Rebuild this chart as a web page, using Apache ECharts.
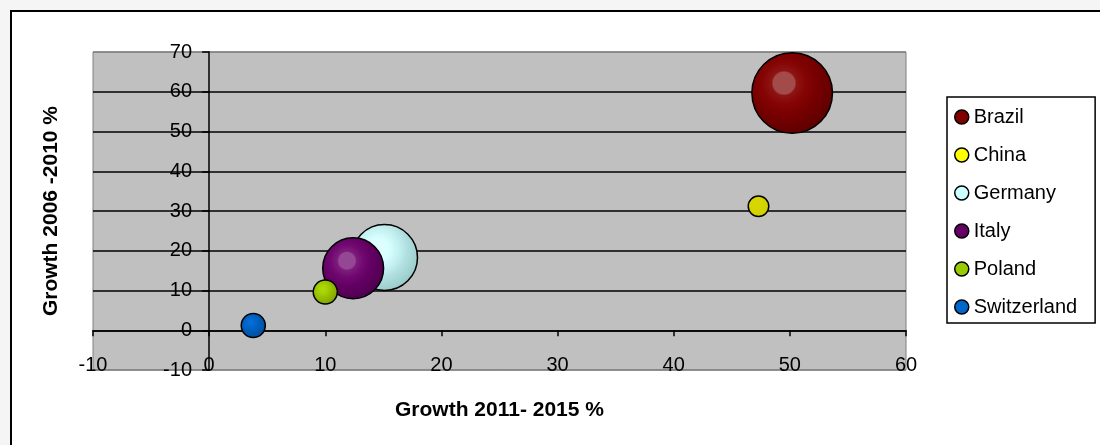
<!DOCTYPE html>
<html>
<head>
<meta charset="utf-8">
<script src="https://cdn.jsdelivr.net/npm/echarts@6/dist/echarts.min.js"></script>
<style>
html,body{margin:0;padding:0;background:#f5f5f5;}
#chart{width:1100px;height:445px;}
</style>
</head>
<body>
<div id="chart"></div>
<script>
// ---- Data ----
var countries = ['Brazil', 'China', 'Germany', 'Italy', 'Poland', 'Switzerland'];
var growth2011_2015 = [50.2, 47.3, 15.1, 12.4, 10.0, 3.8];   // x
var growth2006_2010 = [59.7, 31.2, 18.3, 15.6, 9.6, 1.2];    // y
var bubbleSize = [100, 6.5, 67, 57, 8.9, 8.9];               // relative bubble area
var xTicks = { min: -10, max: 60, step: 10 };
var yTicks = { min: -10, max: 70, step: 10 };
var xTitle = 'Growth 2011- 2015 %';
var yTitle = 'Growth 2006 -2010 %';

// ---- Styles ----
var FONT = 'Arial, "Liberation Sans", sans-serif';
var legendColors = ['#800000', '#FFFF00', '#CCFFFF', '#660066', '#99CC00', '#0066CC'];
var bubbleStops = [
  [[0, '#A34A4A'], [0.2, '#A34A4A'], [0.23, '#8E1414'], [0.4, '#850404'], [0.6, '#780000'], [0.8, '#6A0000'], [1, '#5C0000']],
  [[0, '#D8D800'], [1, '#CFCF00']],
  [[0, '#E2FFFF'], [0.25, '#D8FFFF'], [0.45, '#C6F2F2'], [0.65, '#B2E0E0'], [0.85, '#A2D2D2'], [1, '#97C6C6']],
  [[0, '#944894'], [0.2, '#944894'], [0.23, '#7E1E7E'], [0.4, '#700870'], [0.6, '#640064'], [0.8, '#580058'], [1, '#4C004C']],
  [[0, '#AEDA10'], [0.25, '#A6D200'], [0.5, '#98C000'], [0.8, '#8AAC00'], [1, '#7E9C00']],
  [[0, '#0A6FD8'], [0.3, '#0066CC'], [0.6, '#005AB4'], [1, '#004C99']]
];

function sizeOf(v) { return 80.6 * Math.sqrt(v / 100); }

var series = countries.map(function (name, i) {
  return {
    name: name,
    type: 'scatter',
    data: [[growth2011_2015[i], growth2006_2010[i], bubbleSize[i]]],
    symbol: 'circle',
    symbolSize: function (d) { return sizeOf(d[2]); },
    itemStyle: {
      color: new echarts.graphic.RadialGradient(0.4, 0.38, 0.66, bubbleStops[i].map(function (s) { return { offset: s[0], color: s[1] }; })),
      borderColor: '#000',
      borderWidth: 1.5,
      opacity: 1
    },
    emphasis: { disabled: true },
    z: 3 + i
  };
});

var yGridColors = [];
for (var v = yTicks.min; v <= yTicks.max; v += yTicks.step) {
  yGridColors.push((v === yTicks.min || v === yTicks.max) ? '#808080' : '#000000');
}

var chart = echarts.init(document.getElementById('chart'), null, { renderer: 'canvas' });
chart.setOption({
  backgroundColor: '#f5f5f5',
  animation: false,
  textStyle: { fontFamily: FONT },
  graphic: [{
    type: 'rect',
    shape: { x: 11, y: 11, width: 1200, height: 600 },
    style: { fill: '#ffffff', stroke: '#000000', lineWidth: 2 },
    z: -100,
    silent: true
  }],
  grid: {
    left: 93, right: 194, top: 52, bottom: 75,
    containLabel: false,
    outerBoundsMode: 'none',
    show: true,
    backgroundColor: '#C0C0C0',
    borderColor: '#808080',
    borderWidth: 1
  },
  xAxis: {
    type: 'value',
    min: xTicks.min, max: xTicks.max, interval: xTicks.step,
    name: xTitle,
    nameLocation: 'middle',
    nameGap: 30,
    nameTextStyle: { fontSize: 21, fontWeight: 'bold', color: '#000', fontFamily: FONT },
    axisLine: { show: true, onZero: true, lineStyle: { color: '#000', width: 1.5 } },
    axisTick: { show: true, inside: false, length: 6, lineStyle: { color: '#000', width: 1.5 } },
    axisLabel: { margin: -15, fontSize: 20, color: '#000', fontFamily: FONT, showMinLabel: true, showMaxLabel: true },
    splitLine: { show: false }
  },
  yAxis: {
    type: 'value',
    min: yTicks.min, max: yTicks.max, interval: yTicks.step,
    name: yTitle,
    nameLocation: 'middle',
    nameGap: 31,
    nameRotate: 90,
    nameTextStyle: { fontSize: 21, fontWeight: 'bold', color: '#000', fontFamily: FONT },
    axisLine: { show: true, onZero: true, lineStyle: { color: '#000', width: 1.5 } },
    axisTick: { show: true, inside: false, length: 7, lineStyle: { color: '#000', width: 1.5 } },
    axisLabel: { margin: -99, fontSize: 20, color: '#000', fontFamily: FONT, showMinLabel: true, showMaxLabel: true },
    splitLine: { show: true, lineStyle: { color: yGridColors, width: 1.5 } }
  },
  legend: {
    orient: 'vertical',
    left: 947,
    top: 97,
    padding: [10, 18, 6, 7],
    itemGap: 18,
    itemWidth: 14,
    itemHeight: 14,
    itemTextGap: 8,
    backgroundColor: '#ffffff',
    borderColor: '#000000',
    borderWidth: 1.5,
    borderRadius: 0,
    textStyle: { fontSize: 20, lineHeight: 20, color: '#000', fontFamily: FONT },
    data: countries.map(function (name, i) {
      return { name: name, icon: 'circle', itemStyle: { color: legendColors[i], borderColor: '#000', borderWidth: 1.5 } };
    })
  },
  series: series
});
</script>
</body>
</html>
